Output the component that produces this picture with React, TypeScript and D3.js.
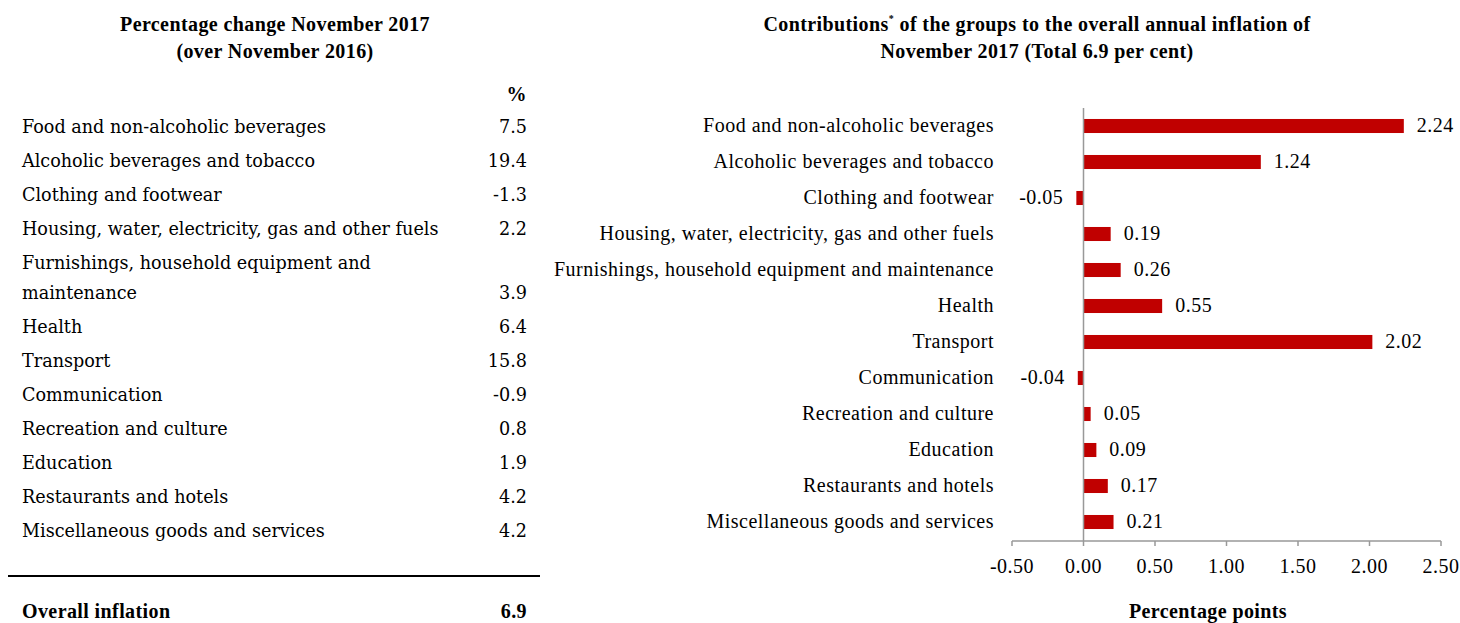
import React from 'react';
import * as d3 from 'd3';

// left table
const tableLabels = [
  ['Food and non-alcoholic beverages'],
  ['Alcoholic beverages and tobacco'],
  ['Clothing and footwear'],
  ['Housing, water, electricity, gas and other fuels'],
  ['Furnishings, household equipment and', 'maintenance'],
  ['Health'],
  ['Transport'],
  ['Communication'],
  ['Recreation and culture'],
  ['Education'],
  ['Restaurants and hotels'],
  ['Miscellaneous goods and services'],
];
const pctChange = ['7.5', '19.4', '-1.3', '2.2', '3.9', '6.4', '15.8', '-0.9', '0.8', '1.9', '4.2', '4.2'];
const overallInflation = '6.9';

// right chart
const groups = [
  'Food and non-alcoholic beverages',
  'Alcoholic beverages and tobacco',
  'Clothing and footwear',
  'Housing, water, electricity, gas and other fuels',
  'Furnishings, household equipment and maintenance',
  'Health',
  'Transport',
  'Communication',
  'Recreation and culture',
  'Education',
  'Restaurants and hotels',
  'Miscellaneous goods and services',
];
const contributions = [2.24, 1.24, -0.05, 0.19, 0.26, 0.55, 2.02, -0.04, 0.05, 0.09, 0.17, 0.21];
const xTicks = [-0.5, 0, 0.5, 1, 1.5, 2, 2.5];

const W = 1460;
const H = 623;
const tableFont = '"DejaVu Serif", serif';
const chartFont = '"Liberation Serif", "Times New Roman", serif';
const boldSize = 20;
const boldSpacing = 0.4;

export default function App() {
  const x = d3.scaleLinear().domain([-0.5, 2.5]).range([1012, 1441]);
  const y = d3.scaleBand<string>().domain(groups).range([108, 540]).paddingInner(0.61).paddingOuter(0.305);
  const fmt = (v: number) => d3.format('.2f')(v).replace('\u2212', '-');

  // table row baselines
  let rowY = 133;
  const rows = tableLabels.map((lines, i) => {
    const ys = lines.map((_, j) => rowY + j * 30);
    const last = ys[ys.length - 1];
    rowY = last + 34;
    return { lines, ys, last, value: pctChange[i] };
  });

  return (
    <svg width={W} height={H} style={{ position: 'absolute', left: 0, top: 0 }}>
      <rect width={W} height={H} fill="#fff" />
      {/* bold headings */}
      <g fontFamily={chartFont} fontWeight="bold" fontSize={boldSize} letterSpacing={boldSpacing} fill="#000">
        <text x={275} y={31} textAnchor="middle">Percentage change November 2017</text>
        <text x={275} y={58} textAnchor="middle">(over November 2016)</text>
        <text x={527} y={101} textAnchor="end">%</text>
        <text x={22} y={618}>Overall inflation</text>
        <text x={527} y={618} textAnchor="end">{overallInflation}</text>
        <text x={1037} y={31} textAnchor="middle">
          Contributions<tspan fontSize={10} dy={-9}>*</tspan>
          <tspan dy={9}> of the groups to the overall annual inflation of</tspan>
        </text>
        <text x={1037} y={58} textAnchor="middle">November 2017 (Total 6.9 per cent)</text>
        <text x={1208} y={618} textAnchor="middle">Percentage points</text>
      </g>

      {/* left table */}
      <g fontFamily={tableFont} fill="#000" fontSize={17.6}>
        {rows.map((r, i) => (
          <g key={i}>
            {r.lines.map((l, j) => (
              <text key={j} x={22} y={r.ys[j]}>{l}</text>
            ))}
            <text x={527} y={r.last} textAnchor="end">{r.value}</text>
          </g>
        ))}
        <line x1={8} x2={540} y1={576} y2={576} stroke="#000" strokeWidth={2} />
      </g>

      {/* right chart */}
      <g fontFamily={chartFont} fontSize={20} letterSpacing={0.5} fill="#000">
        {groups.map((g, i) => {
          const v = contributions[i];
          const y0 = y(g)!;
          const bh = y.bandwidth();
          const cy = y0 + bh / 2;
          return (
            <g key={g}>
              <text x={994} y={cy + 6} textAnchor="end">{g}</text>
              <rect x={Math.min(x(0), x(v))} y={y0} width={Math.abs(x(v) - x(0))} height={bh} fill="#C00000" />
              <text x={v >= 0 ? x(v) + 13 : x(v) - 13} y={cy + 6} textAnchor={v >= 0 ? 'start' : 'end'}>
                {fmt(v)}
              </text>
            </g>
          );
        })}
        <line x1={x(0)} x2={x(0)} y1={108} y2={541} stroke="#999" strokeWidth={1.5} />
        <line x1={x(-0.5)} x2={x(2.5)} y1={541} y2={541} stroke="#999" strokeWidth={1.5} />
        {xTicks.map((t) => (
          <g key={t}>
            <line x1={x(t)} x2={x(t)} y1={541} y2={546} stroke="#999" strokeWidth={1.5} />
            <text x={x(t)} y={573} textAnchor="middle">{fmt(t)}</text>
          </g>
        ))}
      </g>
    </svg>
  );
}
